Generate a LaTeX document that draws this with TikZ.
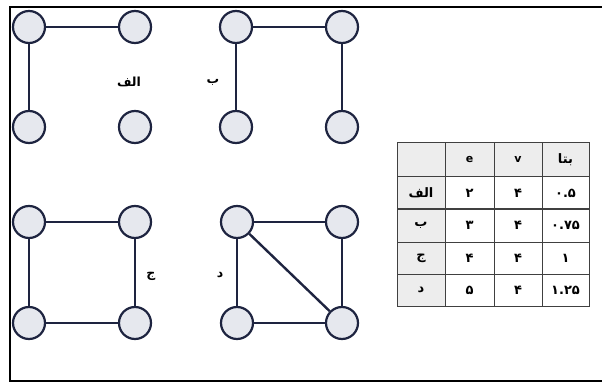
\documentclass[tikz,border=0pt]{standalone}
\usepackage{fontspec}
\setmainfont{DejaVu Sans}
\newfontfamily\arabicfont[Script=Arabic]{DejaVu Sans}
\TeXXeTstate=1
\definecolor{vfill}{HTML}{E6E8EE}
\definecolor{vline}{HTML}{1E2440}
\definecolor{hdr}{HTML}{EDEDED}
\begin{document}
\begin{tikzpicture}[x=1pt,y=-1pt,
  vert/.style={circle,draw=vline,fill=vfill,line width=2.2pt,minimum size=32pt,inner sep=0pt},
  edge/.style={draw=vline,line width=2.4pt},
  lbl/.style={font=\arabicfont\bfseries\fontsize{12.5}{14}\selectfont,inner sep=0pt},
  cell/.style={font=\arabicfont\bfseries\fontsize{13}{15}\selectfont,inner sep=0pt},
  latin/.style={font=\bfseries\fontsize{11}{13}\selectfont,inner sep=0pt},
  grid/.style={draw=black!75,line width=1pt}]
\useasboundingbox (0,0) rectangle (602,382);
% frame
\draw[line width=1.4pt] (608,7) -- (10,7) -- (10,381) -- (608,381);
% graph A
\node[vert] (a1) at (29,27) {};
\node[vert] (a2) at (135,27) {};
\node[vert] (a3) at (29,127) {};
\node[vert] (a4) at (135,127) {};
\draw[edge] (a1) -- (a2);
\draw[edge] (a1) -- (a3);
\node[lbl] (la) at (129,82) {\beginR الف\endR};
% graph B
\node[vert] (b1) at (236,27) {};
\node[vert] (b2) at (342,27) {};
\node[vert] (b3) at (236,127) {};
\node[vert] (b4) at (342,127) {};
\draw[edge] (b1) -- (b2);
\draw[edge] (b1) -- (b3);
\draw[edge] (b2) -- (b4);
\node[lbl] (lb) at (213,82) {\beginR ب\endR};
% graph C
\node[vert] (c1) at (29,222) {};
\node[vert] (c2) at (135,222) {};
\node[vert] (c3) at (29,323) {};
\node[vert] (c4) at (135,323) {};
\draw[edge] (c1) -- (c2);
\draw[edge] (c1) -- (c3);
\draw[edge] (c2) -- (c4);
\draw[edge] (c3) -- (c4);
\node[lbl] (lc) at (151,276) {\beginR ج\endR};
% graph D
\node[vert] (d1) at (237,222) {};
\node[vert] (d2) at (342,222) {};
\node[vert] (d3) at (237,323) {};
\node[vert] (d4) at (342,323) {};
\draw[edge] (d1) -- (d2);
\draw[edge] (d1) -- (d3);
\draw[edge] (d2) -- (d4);
\draw[edge] (d3) -- (d4);
\draw[edge] (d1) -- (d4);
\node[lbl] (ld) at (220,275) {\beginR د\endR};
% table shading
\fill[hdr] (397,143) rectangle (589,177);
\fill[hdr] (397,177) rectangle (445,306);
% table grid
\draw[grid] (397,143) rectangle (589,306);
\foreach \x in {445,494,542} \draw[grid] (\x,143) -- (\x,306);
\foreach \y in {177,209,242,274} \draw[grid] (397,\y) -- (589,\y);
% header
\node[latin] (h2) at (469.5,159) {e};
\node[latin] (h3) at (518,159) {v};
\node[cell] (h4) at (565.5,160) {\beginR بتا\endR};
% rows
\node[cell] (r1c1) at (421,193) {\beginR الف\endR};
\node[cell] (r1c2) at (469.5,193) {۲};
\node[cell] (r1c3) at (518,193) {۴};
\node[cell] (r1c4) at (565.5,193) {۰.۵};
\node[cell] (r2c1) at (421,225.5) {\beginR ب\endR};
\node[cell] (r2c2) at (469.5,225.5) {۳};
\node[cell] (r2c3) at (518,225.5) {۴};
\node[cell] (r2c4) at (565.5,225.5) {۰.۷۵};
\node[cell] (r3c1) at (421,258) {\beginR ج\endR};
\node[cell] (r3c2) at (469.5,258) {۴};
\node[cell] (r3c3) at (518,258) {۴};
\node[cell] (r3c4) at (565.5,258) {۱};
\node[cell] (r4c1) at (421,290) {\beginR د\endR};
\node[cell] (r4c2) at (469.5,290) {۵};
\node[cell] (r4c3) at (518,290) {۴};
\node[cell] (r4c4) at (565.5,290) {۱.۲۵};
\end{tikzpicture}
\end{document}
